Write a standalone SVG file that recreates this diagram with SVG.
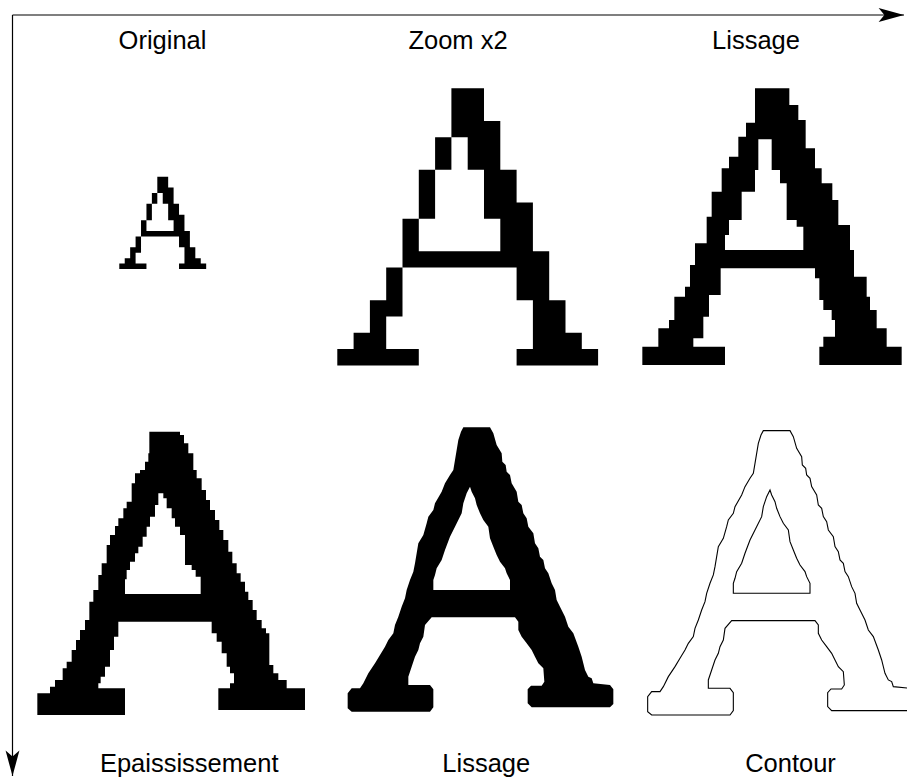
<svg xmlns="http://www.w3.org/2000/svg" xmlns:xlink="http://www.w3.org/1999/xlink" width="907" height="778" viewBox="0 0 907 778">
<style>
  .lbl { font-family: "Liberation Sans", Arial, sans-serif; font-size: 25.5px; fill: #000; text-anchor: middle; }
  .solid { fill: #000; fill-rule: evenodd; stroke: none; }
  .outline { fill: none; stroke: #000; stroke-width: 3.3; stroke-linejoin: miter; }
  .axis { stroke: #000; stroke-width: 1.2; fill: none; }
</style>
<defs>
  <marker id="arr" markerUnits="userSpaceOnUse" markerWidth="30" markerHeight="20" viewBox="-24 -8 26 16" refX="0" refY="0" orient="auto">
    <path d="M0,0 L-22,-6 L-17,0 L-22,6 Z" fill="#000"/>
  </marker>
  <path id="pixA" d="M7,0h2v2h-2z M7,2h3v1h-3z M6,3h1v2h-1z M8,3h2v2h-2z M5,5h1v2h-1z M9,5h2v2h-2z M5,7h1v1h-1z M9,7h3v1h-3z M4,8h1v2h-1z M10,8h2v2h-2z M4,10h9v1h-9z M3,11h1v2h-1z M11,11h2v2h-2z M2,13h2v1h-2z M12,13h2v1h-2z M2,14h1v1h-1z M12,14h2v1h-2z M1,15h2v1h-2z M12,15h3v1h-3z M0,16h5v1h-5z M11,16h5v1h-5z"/>
  <path id="smoothA" d="M385,22 L465,22 L475,40 L485,75 L500,100 L502,125 L512,135 L515,155 L525,165 L530,190 L545,215 L550,245 L560,255 L565,280 L575,295 L580,320 L595,340 L600,370 L610,385 L615,410 L625,420 L630,445 L640,460 L650,490 L660,510 L665,540 L675,560 L690,590 L700,620 L715,640 L730,680 L740,710 L750,750 L760,770 L770,775 L775,790 L825,795 L835,808 L835,852 L825,862 L590,862 L578,850 L578,808 L588,797 L620,797 L628,785 L625,745 L610,730 L600,710 L590,690 L575,670 L560,650 L550,630 L550,605 L540,592 L290,592 L270,615 L265,650 L255,670 L250,690 L240,710 L230,740 L220,770 L220,795 L285,795 L295,808 L295,862 L285,875 L50,875 L38,865 L38,820 L50,805 L75,805 L85,790 L100,760 L120,730 L135,705 L150,680 L160,660 L175,640 L180,615 L190,590 L200,560 L210,535 L215,510 L225,480 L235,455 L240,430 L245,400 L250,370 L265,345 L275,310 L280,290 L295,270 L300,250 L320,215 L330,190 L345,165 L355,150 L360,120 L365,90 L370,60 L378,35 Z M405,200 L395,220 L385,250 L380,280 L360,320 L345,350 L330,390 L320,420 L305,445 L300,465 L295,480 L295,510 L525,510 L525,480 L515,460 L510,445 L495,425 L485,405 L475,380 L465,355 L460,320 L445,300 L435,280 L425,255 L420,235 L410,215 Z"/>
</defs>
<rect x="0" y="0" width="907" height="778" fill="#fff"/>

<g id="axes">
  <line class="axis" x1="12.5" y1="15" x2="904" y2="15" marker-end="url(#arr)"/>
  <line class="axis" x1="12.5" y1="15" x2="12.5" y2="776" marker-end="url(#arr)"/>
</g>

<g id="original">
  <use xlink:href="#pixA" href="#pixA" class="solid" transform="translate(119.3,176.7) scale(5.43)"/>
  <text class="lbl" x="162.5" y="49">Original</text>
</g>

<g id="zoom">
  <use xlink:href="#pixA" href="#pixA" class="solid" transform="translate(337.3,88.3) scale(16.3)"/>
  <text class="lbl" x="458" y="49">Zoom x2</text>
</g>

<g id="lissage1">
  <path class="solid" transform="translate(630,80) scale(0.33333)" d="M375,25 H478 V75 H505 V120 H527 V205 H555 V265 H575 V310 H607 V360 H625 V435 H660 V510 H672 V590 H710 V650 H720 V690 H740 V745 H770 V800 H815 V855 H568 V800 H580 V770 H615 V720 H605 V690 H580 V660 H568 V595 H555 V565 H272 V645 H237 V710 H220 V775 H190 V800 H285 V855 H37 V800 H85 V745 H117 V720 H133 V650 H165 V620 H180 V555 H195 V490 H230 V410 H245 V335 H275 V265 H297 V230 H325 V170 H348 V128 H375 Z M385,178 H425 V270 H450 V310 H470 V420 H500 V440 H520 V510 H285 V465 H297 V420 H335 V335 H375 V270 H385 Z"/>
  <text class="lbl" x="756" y="49">Lissage</text>
</g>

<g id="epaississement">
  <path class="solid" transform="translate(30,420) scale(0.33333)" d="M358,35 H450 V45 H462 V70 H475 V100 H490 V150 H500 V175 H515 V210 H528 V240 H540 V270 H555 V300 H568 V330 H580 V360 H595 V395 H607 V430 H620 V460 H632 V485 H645 V515 H655 V540 H668 V570 H680 V600 H695 V625 H708 V640 H718 V735 H730 V760 H745 V780 H770 V805 H825 V870 H565 V805 H600 V790 H612 V760 H600 V740 H590 V700 H575 V665 H560 V640 H545 V605 H265 V650 H252 V690 H240 V740 H225 V770 H212 V790 H205 V805 H285 V885 H22 V820 H60 V800 H75 V780 H98 V745 H110 V725 H125 V690 H138 V660 H150 V630 H165 V600 H178 V545 H190 V510 H205 V465 H215 V430 H230 V375 H240 V345 H255 V318 H265 V295 H280 V265 H290 V245 H305 V190 H315 V160 H330 V150 H345 V125 H355 V100 H358 Z M385,220 H400 V235 H410 V265 H425 V295 H435 V320 H450 V345 H465 V435 H485 V450 H497 V470 H512 V522 H285 V478 H290 V450 H300 V425 H315 V400 H325 V380 H338 V350 H350 V320 H360 V290 H375 V255 H385 Z"/>
  <text class="lbl" x="189.2" y="771.5">Epaississement</text>
</g>

<g id="lissage2">
  <use xlink:href="#smoothA" href="#smoothA" class="solid" transform="translate(335,420) scale(0.33333)"/>
  <text class="lbl" x="486.3" y="771.5">Lissage</text>
</g>

<g id="contour">
  <use xlink:href="#smoothA" href="#smoothA" class="outline" transform="translate(635,423.3) scale(0.33333)"/>
  <text class="lbl" x="790.5" y="771.5">Contour</text>
</g>
</svg>
